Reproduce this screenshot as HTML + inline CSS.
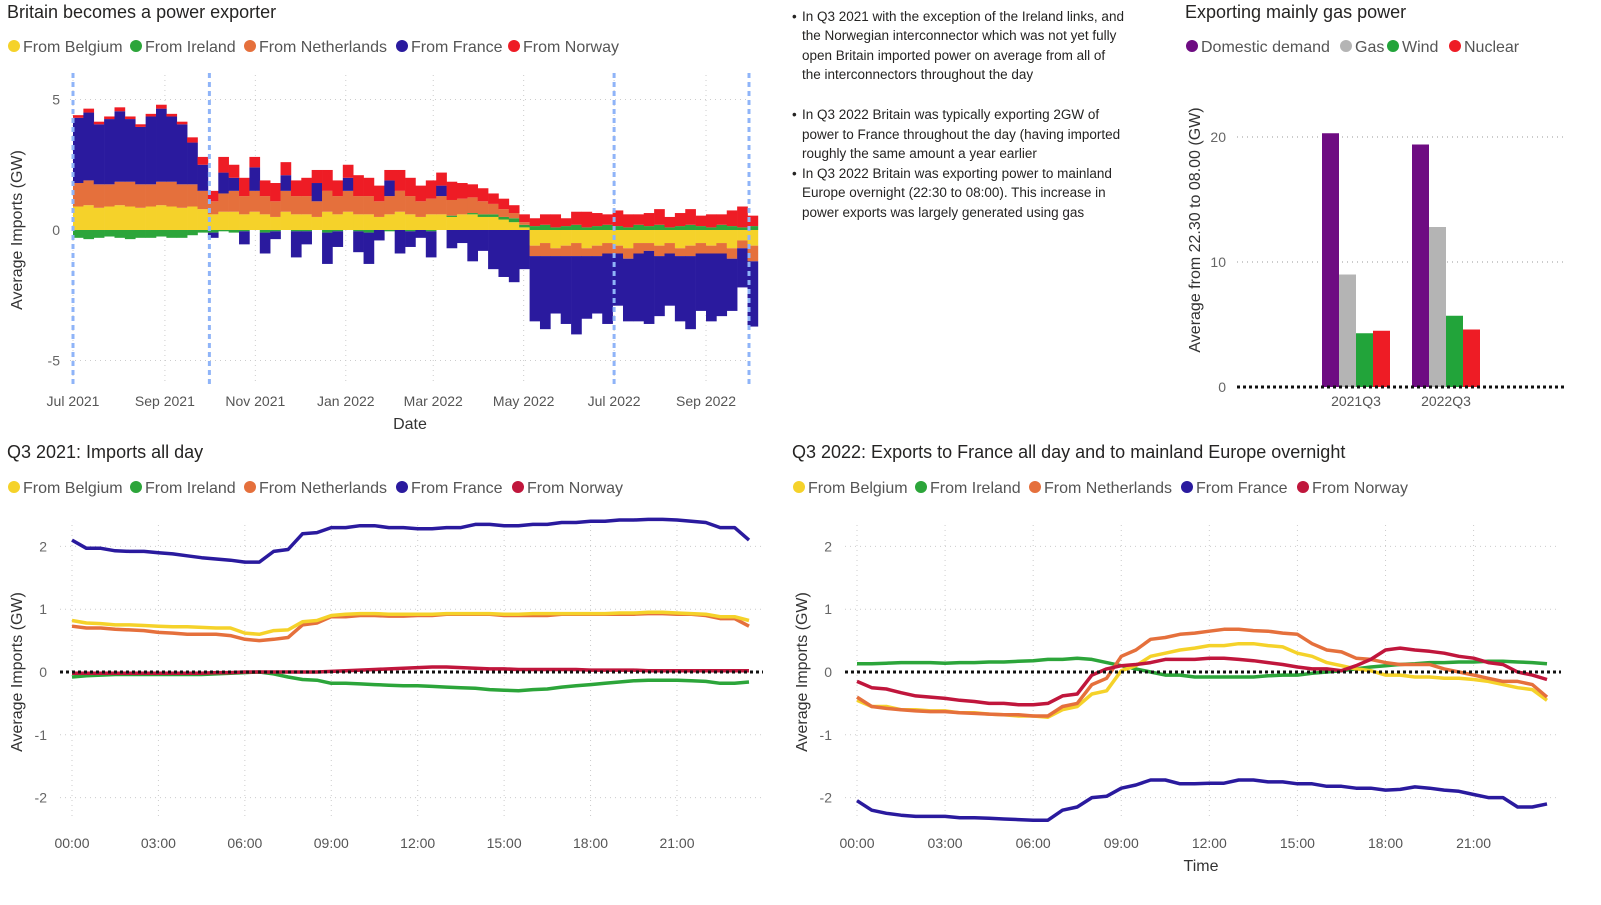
<!DOCTYPE html>
<html><head><meta charset="utf-8"><style>
body{margin:0;background:#fff;width:1601px;height:900px;overflow:hidden;font-family:"Liberation Sans",sans-serif}
svg text{font-family:"Liberation Sans",sans-serif}
</style></head><body>
<svg id="s" width="1601" height="900" xmlns="http://www.w3.org/2000/svg">
<g><text x="7" y="18" font-size="18" fill="#252423">Britain becomes a power exporter</text></g>
<g><text x="1185" y="18" font-size="18" fill="#252423">Exporting mainly gas power</text></g>
<g><text x="7" y="458" font-size="18" fill="#252423">Q3 2021: Imports all day</text></g>
<g><text x="792" y="458" font-size="18" fill="#252423">Q3 2022: Exports to France all day and to mainland Europe overnight</text></g>
<g font-size="13.5" fill="#252423">
<text x="792" y="21">•</text><text x="802" y="21">In Q3 2021 with the exception of the Ireland links, and</text>
<text x="802" y="40">the Norwegian interconnector which was not yet fully</text>
<text x="802" y="60">open Britain imported power on average from all of</text>
<text x="802" y="79">the interconnectors throughout the day</text>
<text x="792" y="119">•</text><text x="802" y="119">In Q3 2022 Britain was typically exporting 2GW of</text>
<text x="802" y="139">power to France throughout the day (having imported</text>
<text x="802" y="158">roughly the same amount a year earlier</text>
<text x="792" y="178">•</text><text x="802" y="178">In Q3 2022 Britain was exporting power to mainland</text>
<text x="802" y="197">Europe overnight (22:30 to 08:00). This increase in</text>
<text x="802" y="217">power exports was largely generated using gas</text>
</g>
<g id="p1"></g>
<g id="p3"></g>
<g id="p4"></g>
<g id="p5"></g>
</svg>
<script>
// ---- Panel 1 weekly data (GW) from 1 Jul 2021 ----
const weekStart = ['2021-07-01'];
const belgium = [0.9,0.95,0.85,0.9,0.95,0.9,0.85,0.9,0.95,0.9,0.85, 0.9,0.8,0.6,0.7,0.7,0.6,0.7,0.6,0.5,0.7,0.6, 0.6,0.5,0.7,0.6,0.7,0.6,0.6,0.5,0.6,0.7,0.6, 0.5,0.6,0.6,0.5,0.6,0.6,0.5,0.5,0.4,0.3,0.1, -0.6,-0.5,-0.7,-0.6,-0.5,-0.7,-0.6,-0.5,-0.6,-0.7,-0.5, -0.5,-0.6,-0.5,-0.7,-0.6,-0.5,-0.6,-0.5,-0.7,-0.4,-0.6];
const ireland = [-0.3,-0.35,-0.3,-0.25,-0.3,-0.35,-0.3,-0.3,-0.25,-0.3,-0.3, -0.2,-0.1,-0.1,-0.05,-0.1,-0.05,0.0,-0.1,-0.05,0.0,-0.05, -0.05,0.0,-0.1,-0.05,0.0,-0.05,-0.1,0.0,-0.05,0.0,-0.05, 0.0,-0.05,0.0,0.05,0.0,0.05,0.1,0.1,0.1,0.15,0.1, 0.15,0.2,0.1,0.15,0.2,0.1,0.15,0.2,0.15,0.1,0.2, 0.15,0.2,0.1,0.15,0.2,0.15,0.1,0.2,0.15,0.1,0.15];
const netherlands = [0.9,0.95,0.9,0.85,0.9,0.95,0.9,0.85,0.9,0.95,0.9, 0.85,0.7,0.5,0.7,0.8,0.7,0.8,0.7,0.6,0.8,0.7, 0.7,0.6,0.8,0.7,0.8,0.7,0.7,0.6,0.7,0.8,0.7, 0.6,0.6,0.7,0.6,0.6,0.6,0.5,0.4,0.3,0.2,0.1, -0.4,-0.5,-0.3,-0.4,-0.5,-0.3,-0.4,-0.4,-0.3,-0.4,-0.4, -0.3,-0.4,-0.4,-0.3,-0.4,-0.4,-0.3,-0.4,-0.4,-0.3,-0.6];
const france = [2.5,2.6,2.3,2.5,2.7,2.4,2.2,2.6,2.8,2.5,2.3, 1.6,1.0,-0.2,0.8,0.5,-0.5,0.9,-0.8,-0.3,0.6,-1.0, -0.5,0.7,-1.2,-0.6,0.5,-0.8,-1.2,-0.4,0.6,-0.9,-0.6, -0.3,-1.0,0.4,-0.7,-0.5,-1.2,-0.8,-1.5,-1.8,-2.0,-1.5, -2.5,-2.8,-2.2,-2.6,-3.0,-2.4,-2.2,-2.7,-2.0,-2.4,-2.6, -2.8,-2.3,-2.0,-2.5,-2.8,-2.2,-2.6,-2.4,-2.0,-1.5,-2.5];
const norway = [0.1,0.15,0.1,0.1,0.15,0.1,0.1,0.1,0.15,0.1,0.1, 0.2,0.3,0.4,0.6,0.5,0.7,0.4,0.6,0.7,0.5,0.6, 0.7,0.5,0.8,0.6,0.5,0.8,0.7,0.6,0.4,0.8,0.7, 0.6,0.7,0.5,0.7,0.6,0.5,0.5,0.4,0.4,0.3,0.3, 0.3,0.4,0.5,0.3,0.5,0.6,0.5,0.4,0.6,0.5,0.4, 0.5,0.6,0.4,0.5,0.6,0.4,0.5,0.4,0.6,0.8,0.4];
const dateTicks = ['Jul 2021','Sep 2021','Nov 2021','Jan 2022','Mar 2022','May 2022','Jul 2022','Sep 2022'];
const dateTickDays = [0,62,123,184,243,304,365,427];
const p1YTicks = [5,0,-5];
const markerDays = [0,92,365,456];
// ---- Panel 3 ----
const quarters = ['2021Q3','2022Q3'];
const demand = [20.3,19.4];
const gas = [9.0,12.8];
const wind = [4.3,5.7];
const nuclear = [4.5,4.6];
const p3YTicks = [0,10,20];
// ---- Panels 4/5 half-hourly ----
const timeTicks = ['00:00','03:00','06:00','09:00','12:00','15:00','18:00','21:00'];
const lineYTicks = [2,1,0,-1,-2];
const fr21 = [2.1,1.97,1.97,1.93,1.92,1.92,1.9,1.88,1.85,1.82,1.8,1.78,1.75,1.75,1.92,1.95,2.2,2.22,2.3,2.3,2.33,2.33,2.3,2.3,2.28,2.28,2.3,2.3,2.35,2.35,2.33,2.33,2.35,2.35,2.38,2.38,2.4,2.4,2.42,2.42,2.43,2.43,2.42,2.4,2.38,2.3,2.3,2.1];
const be21 = [0.82,0.78,0.77,0.75,0.75,0.74,0.73,0.72,0.72,0.71,0.70,0.70,0.62,0.60,0.66,0.67,0.8,0.82,0.9,0.92,0.93,0.93,0.92,0.92,0.92,0.92,0.93,0.93,0.93,0.93,0.92,0.92,0.93,0.93,0.93,0.93,0.93,0.93,0.94,0.94,0.95,0.95,0.94,0.93,0.92,0.88,0.88,0.82];
const nl21 = [0.73,0.7,0.7,0.68,0.67,0.66,0.63,0.62,0.6,0.6,0.6,0.58,0.52,0.5,0.52,0.55,0.75,0.78,0.88,0.88,0.9,0.9,0.89,0.89,0.9,0.9,0.92,0.92,0.92,0.92,0.9,0.9,0.9,0.9,0.92,0.92,0.92,0.92,0.92,0.92,0.93,0.93,0.92,0.92,0.9,0.85,0.85,0.73];
const no21 = [-0.02,-0.02,-0.02,-0.02,-0.02,-0.02,-0.02,-0.02,-0.02,-0.02,-0.01,-0.01,0,0,0,0,0,0,0.01,0.02,0.03,0.04,0.05,0.06,0.07,0.08,0.08,0.07,0.06,0.05,0.05,0.04,0.04,0.04,0.04,0.04,0.03,0.03,0.03,0.03,0.02,0.02,0.02,0.02,0.02,0.02,0.02,0.02];
const ie21 = [-0.08,-0.06,-0.05,-0.04,-0.04,-0.04,-0.04,-0.04,-0.04,-0.04,-0.03,-0.02,-0.01,0,-0.03,-0.08,-0.12,-0.13,-0.18,-0.18,-0.19,-0.2,-0.21,-0.22,-0.22,-0.23,-0.24,-0.25,-0.26,-0.28,-0.29,-0.3,-0.28,-0.27,-0.24,-0.22,-0.2,-0.18,-0.16,-0.14,-0.13,-0.13,-0.13,-0.14,-0.15,-0.18,-0.18,-0.16];
const fr22 = [-2.05,-2.2,-2.25,-2.28,-2.3,-2.3,-2.3,-2.32,-2.32,-2.33,-2.34,-2.35,-2.36,-2.36,-2.2,-2.15,-2.0,-1.98,-1.85,-1.8,-1.72,-1.72,-1.78,-1.78,-1.77,-1.77,-1.72,-1.72,-1.75,-1.75,-1.78,-1.78,-1.82,-1.82,-1.85,-1.85,-1.88,-1.87,-1.83,-1.85,-1.88,-1.9,-1.95,-2.0,-2.0,-2.15,-2.15,-2.1];
const be22 = [-0.45,-0.55,-0.55,-0.6,-0.6,-0.62,-0.62,-0.65,-0.65,-0.67,-0.68,-0.7,-0.7,-0.72,-0.6,-0.55,-0.35,-0.3,0.02,0.1,0.25,0.3,0.35,0.38,0.42,0.42,0.45,0.45,0.42,0.4,0.3,0.25,0.15,0.1,0.05,0.02,-0.05,-0.05,-0.08,-0.08,-0.1,-0.1,-0.12,-0.15,-0.2,-0.25,-0.28,-0.45];
const nl22 = [-0.4,-0.55,-0.58,-0.6,-0.62,-0.63,-0.63,-0.65,-0.66,-0.67,-0.68,-0.68,-0.7,-0.7,-0.55,-0.5,-0.2,-0.1,0.25,0.35,0.52,0.55,0.6,0.62,0.65,0.68,0.68,0.66,0.65,0.62,0.6,0.45,0.35,0.32,0.22,0.2,0.15,0.12,0.12,0.12,0.05,0.0,-0.05,-0.1,-0.15,-0.15,-0.2,-0.4];
const no22 = [-0.15,-0.25,-0.27,-0.33,-0.38,-0.4,-0.42,-0.45,-0.47,-0.5,-0.5,-0.52,-0.52,-0.5,-0.38,-0.35,-0.05,0.05,0.1,0.12,0.15,0.2,0.2,0.2,0.22,0.22,0.2,0.18,0.15,0.12,0.08,0.05,0.05,0.02,0.1,0.2,0.35,0.38,0.35,0.33,0.3,0.25,0.22,0.15,0.12,0.0,-0.05,-0.12];
const ie22 = [0.13,0.13,0.14,0.15,0.15,0.15,0.14,0.15,0.15,0.16,0.16,0.17,0.18,0.2,0.2,0.22,0.2,0.15,0.1,0.05,0.0,-0.05,-0.05,-0.08,-0.08,-0.08,-0.08,-0.08,-0.06,-0.05,-0.05,-0.02,0.0,0.02,0.05,0.08,0.1,0.12,0.13,0.15,0.15,0.16,0.16,0.17,0.17,0.16,0.15,0.13];

const NS='http://www.w3.org/2000/svg';
function mk(parent,tag,attrs,txt){const e=document.createElementNS(NS,tag);for(const k in attrs)e.setAttribute(k,attrs[k]);if(txt!==undefined)e.textContent=txt;parent.appendChild(e);return e;}
const C={be:'#F5D22A',ie:'#2CA53A',nl:'#E5703C',fr:'#2A1A9E',no:'#EE1C25',no2:'#C0163C',dd:'#6E0C82',gas:'#B4B4B4',wind:'#22A43A',nuc:'#EE1C25'};

function legend(g,items,y){
  items.forEach(it=>{
    const c=mk(g,'circle',{cx:it[0],cy:y,r:6,fill:it[2]});
    
    
    const t=mk(g,'text',{x:it[0]+9,y:y+6,'font-size':16,fill:'#555'},it[1]);
    
    
  });
}

// ===== Panel 1 =====
(function(){
  const g=document.getElementById('p1');
  const x0=73, pxDay=676/456;
  const xd=d=>x0+d*pxDay;
  const y=v=>230-v*26.1;
  legend(g,[[14,'From Belgium',C.be],[136,'From Ireland',C.ie],[250,'From Netherlands',C.nl],[402,'From France',C.fr],[514,'From Norway',C.no]],46);
  p1YTicks.forEach(v=>{
    const t=mk(g,'text',{x:60,y:y(v)+5,'font-size':14,fill:'#666','text-anchor':'end'},String(v));
    
    
    if(v!==0){const l=mk(g,'line',{x1:70,x2:750,y1:y(v),y2:y(v),stroke:'#ccc','stroke-dasharray':'1 4'});
    
    }
  });
  dateTicks.forEach((lab,i)=>{
    const xx=xd(dateTickDays[i]);
    const l=mk(g,'line',{x1:xx,x2:xx,y1:75,y2:385,stroke:'#ccc','stroke-dasharray':'1 4'});
    
    
    const t=mk(g,'text',{x:xx,y:406,'font-size':14,fill:'#555','text-anchor':'middle'},lab);
    
    
  });
  const n=belgium.length, bw=7*pxDay;
  const series=[[belgium,C.be],[ireland,C.ie],[netherlands,C.nl],[france,C.fr],[norway,C.no]];
  for(let i=0;i<n;i++){
    let pos=0,neg=0;
    series.forEach(s=>{
      const v=s[0][i]; let yTop,h;
      if(v>=0){yTop=y(pos+v);h=y(pos)-y(pos+v);pos+=v;}
      else{yTop=y(neg);h=y(neg+v)-y(neg);neg+=v;}
      const r=mk(g,'rect',{x:xd(i*7),y:yTop,width:bw+0.3,height:Math.max(h,0),fill:s[1]});
      
      
    });
  }
  markerDays.forEach(d=>{
    const l=mk(g,'line',{x1:xd(d),x2:xd(d),y1:73,y2:386,stroke:'#8FB4F8','stroke-width':3,'stroke-dasharray':'5 4'});
    
    
  });
  const yt=mk(g,'text',{x:0,y:0,'font-size':16,fill:'#333','text-anchor':'middle',transform:'translate(22,230) rotate(-90)'},'Average Imports (GW)');
  
  
  const xt=mk(g,'text',{x:410,y:429,'font-size':16,fill:'#333','text-anchor':'middle'},'Date');
  
  
})();

// ===== Panel 3 =====
(function(){
  const g=document.getElementById('p3');
  const y=v=>387-v*12.5;
  legend(g,[[1192,'Domestic demand',C.dd],[1346,'Gas',C.gas],[1393,'Wind',C.wind],[1455,'Nuclear',C.nuc]],46);
  p3YTicks.forEach(v=>{
    const t=mk(g,'text',{x:1226,y:y(v)+5,'font-size':14,fill:'#666','text-anchor':'end'},String(v));
    
    
    if(v!==0){const l=mk(g,'line',{x1:1237,x2:1565,y1:y(v),y2:y(v),stroke:'#999','stroke-dasharray':'1 4'});
    
    }
  });
  const centers=[1356,1446], bw=17;
  const sets=[[demand,C.dd],[gas,C.gas],[wind,C.wind],[nuclear,C.nuc]];
  quarters.forEach((q,i)=>{
    sets.forEach((s,j)=>{
      const v=s[0][i];
      const r=mk(g,'rect',{x:centers[i]-2*bw+j*bw,y:y(v),width:bw,height:y(0)-y(v),fill:s[1]});
      
      
    });
    const t=mk(g,'text',{x:centers[i],y:406,'font-size':14,fill:'#555','text-anchor':'middle'},q);
    
    
  });
  const z=mk(g,'line',{x1:1237,x2:1565,y1:y(0),y2:y(0),stroke:'#111','stroke-width':3,'stroke-dasharray':'3 3'});
  
  
  const yt=mk(g,'text',{x:0,y:0,'font-size':16,fill:'#333','text-anchor':'middle',transform:'translate(1200,230) rotate(-90)'},'Average from 22.30 to 08.00 (GW)');
  
  
})();

// ===== Panels 4/5 =====
function linePanel(id,xStart,xEnd,sers,legX,showTime){
  const g=document.getElementById(id);
  const step=(xEnd-xStart)/47;
  const x=i=>xStart+i*step;
  const y=v=>672-v*62.8;
  legend(g,[[legX[0],'From Belgium',C.be],[legX[1],'From Ireland',C.ie],[legX[2],'From Netherlands',C.nl],[legX[3],'From France',C.fr],[legX[4],'From Norway',C.no2]],487);
  lineYTicks.forEach(v=>{
    const t=mk(g,'text',{x:xStart-25,y:y(v)+5,'font-size':14,fill:'#666','text-anchor':'end'},String(v));
    
    
    if(v!==0){const l=mk(g,'line',{x1:xStart-12,x2:xEnd+12,y1:y(v),y2:y(v),stroke:'#ccc','stroke-dasharray':'1 4'});
    
    }
  });
  timeTicks.forEach((lab,i)=>{
    const xx=x(i*6);
    const l=mk(g,'line',{x1:xx,x2:xx,y1:525,y2:820,stroke:'#ccc','stroke-dasharray':'1 4'});
    
    
    const t=mk(g,'text',{x:xx,y:848,'font-size':14,fill:'#555','text-anchor':'middle'},lab);
    
    
  });
  sers.forEach(s=>{
    const d=s[0].map((v,i)=>(i?'L':'M')+x(i).toFixed(1)+','+y(v).toFixed(1)).join(' ');
    const p=mk(g,'path',{d:d,fill:'none',stroke:s[1],'stroke-width':3.5,'stroke-linejoin':'round'});
    
    
  });
  const z=mk(g,'line',{x1:xStart-12,x2:xEnd+14,y1:y(0),y2:y(0),stroke:'#111','stroke-width':3,'stroke-dasharray':'3 3'});
  
  
  const yt=mk(g,'text',{x:0,y:0,'font-size':16,fill:'#333','text-anchor':'middle',transform:'translate('+(xStart-50)+',672) rotate(-90)'},'Average Imports (GW)');
  
  
  if(showTime){const xt=mk(g,'text',{x:1201,y:871,'font-size':16,fill:'#333','text-anchor':'middle'},'Time');
  
  }
}
linePanel('p4',72,749,[[ie21,C.ie,'line-ireland'],[no21,C.no2,'line-norway'],[nl21,C.nl,'line-netherlands'],[be21,C.be,'line-belgium'],[fr21,C.fr,'line-france']],[14,136,250,402,518],false);
linePanel('p5',857,1547,[[ie22,C.ie,'line-ireland'],[be22,C.be,'line-belgium'],[nl22,C.nl,'line-netherlands'],[no22,C.no2,'line-norway'],[fr22,C.fr,'line-france']],[799,921,1035,1187,1303],true);
</script>
</body></html>
